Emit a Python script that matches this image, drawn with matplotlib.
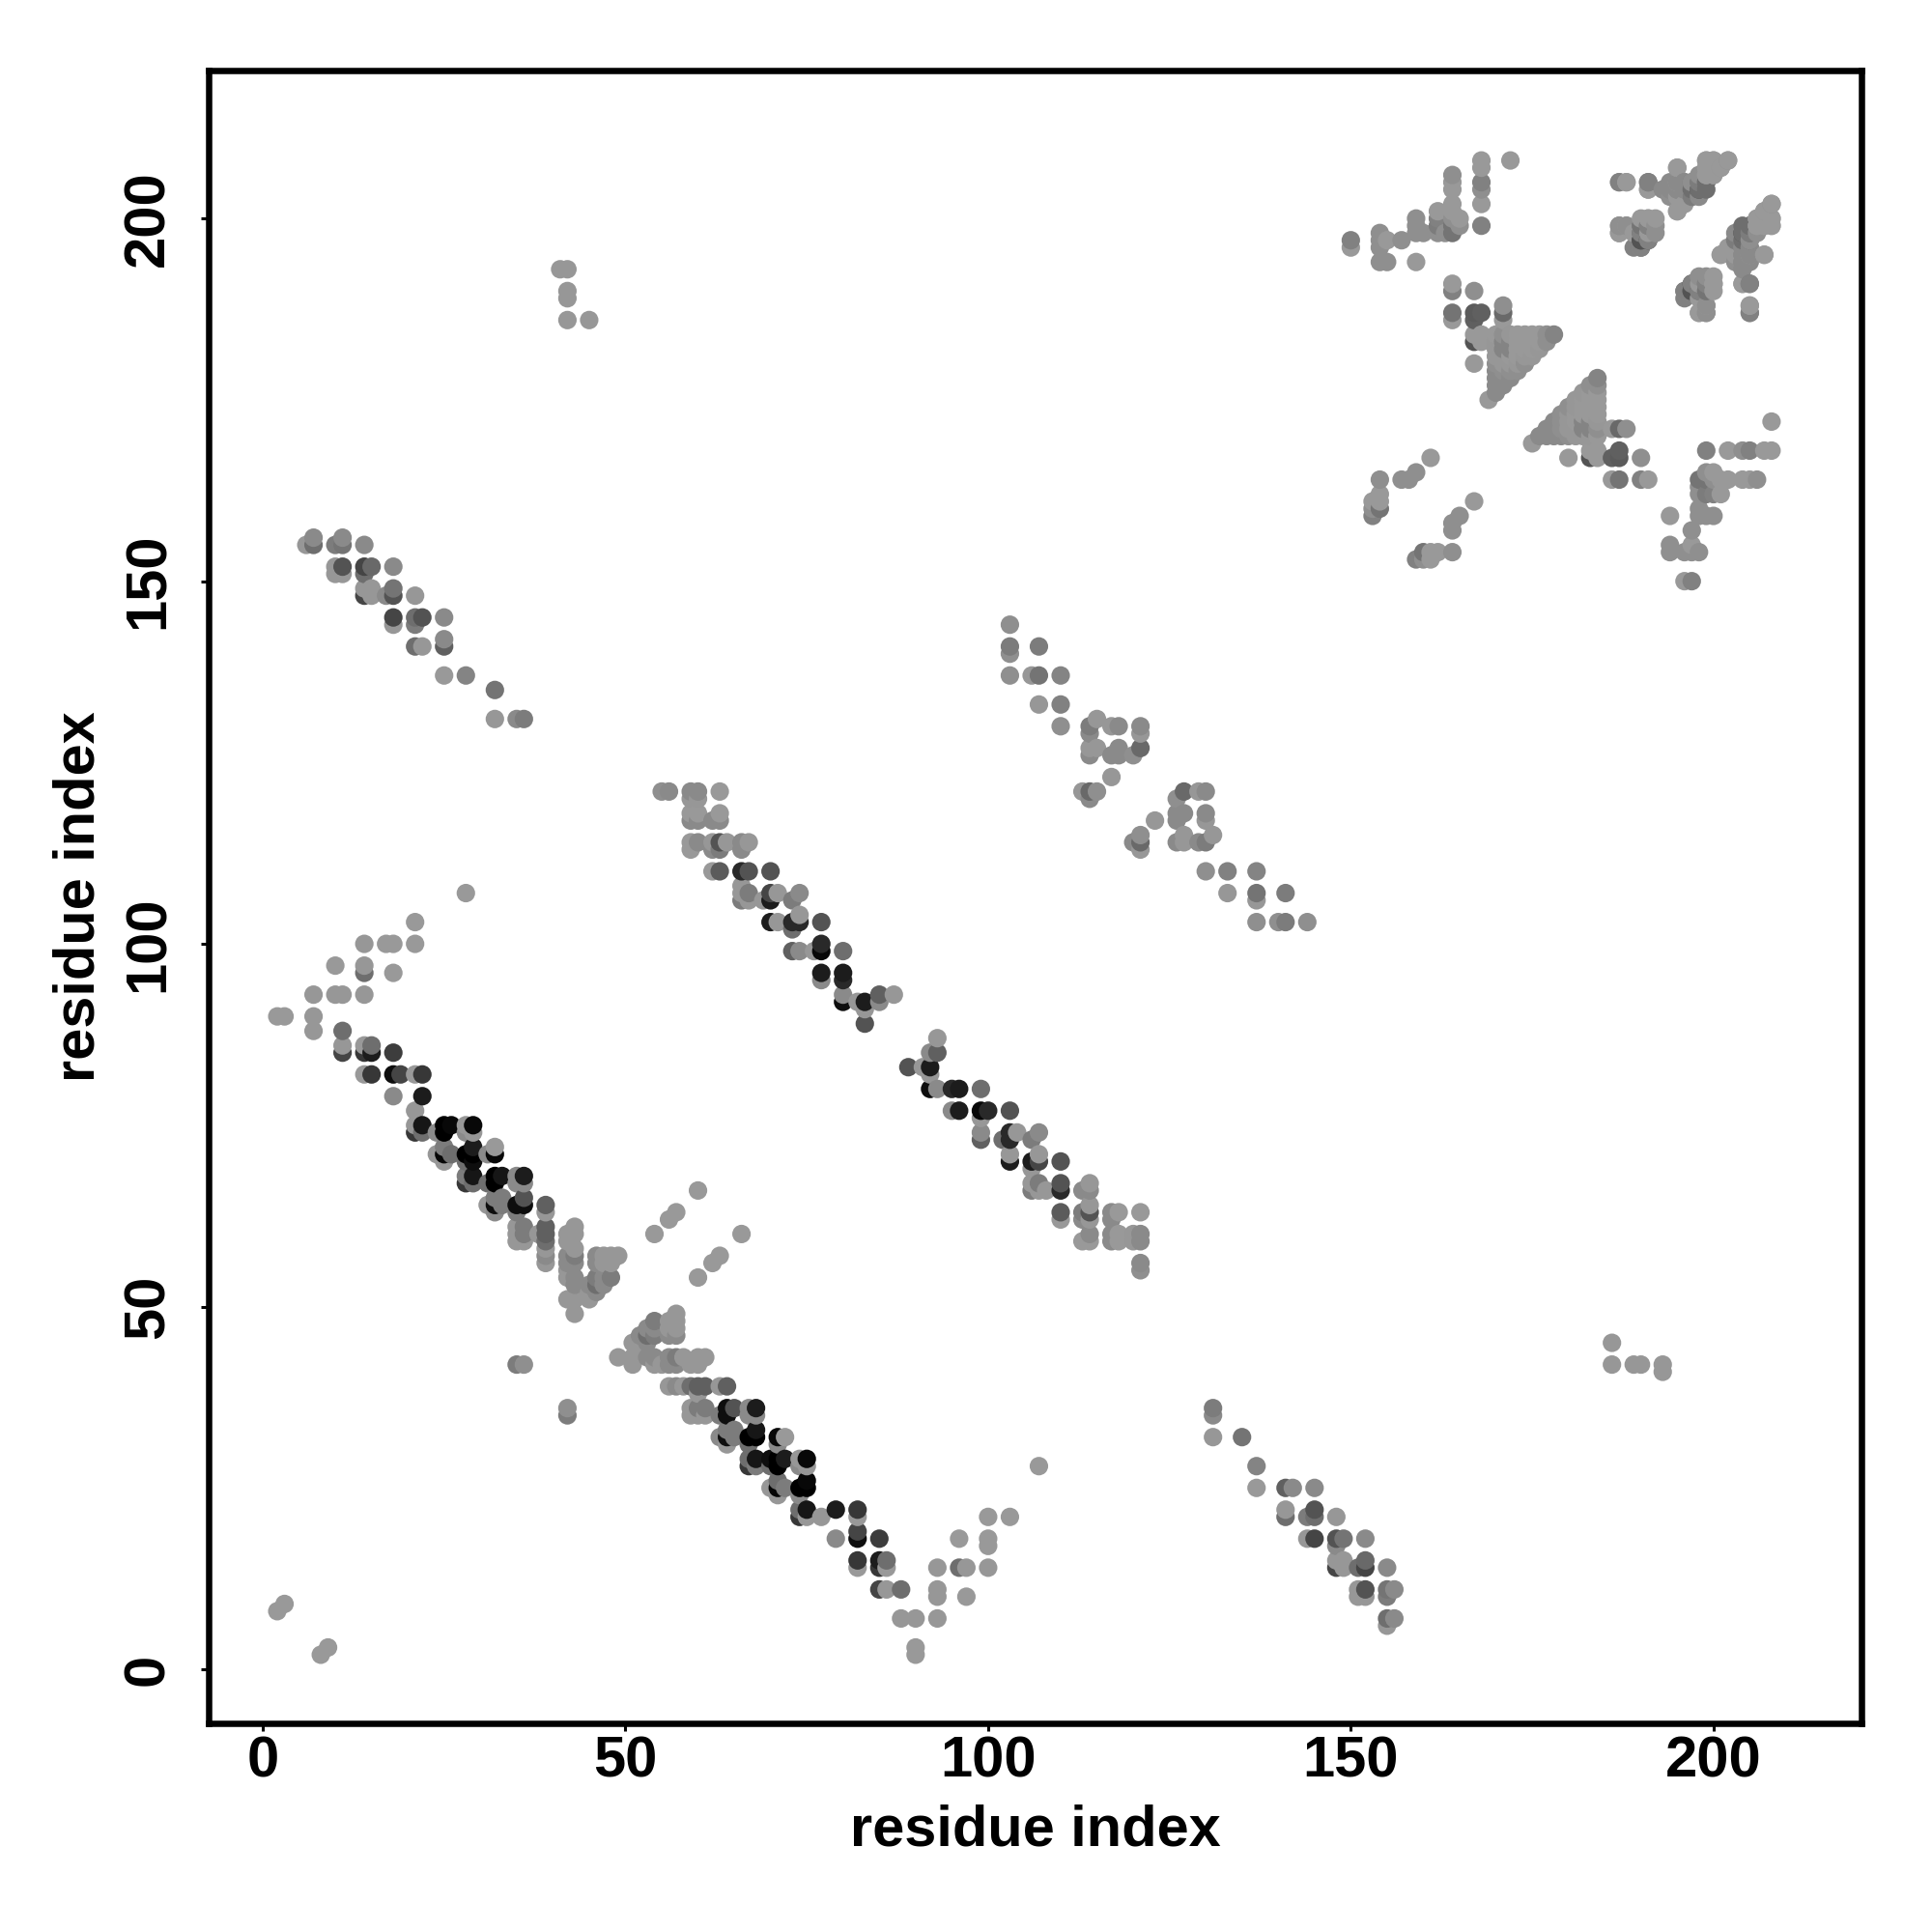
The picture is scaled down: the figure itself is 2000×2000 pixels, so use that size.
import matplotlib
matplotlib.use('Agg')
import matplotlib.pyplot as plt
import numpy as np

# contacts as (residue i, residue j, grey level), only i < j, the map is symmetric
short_range = [(2, 8, .58), (3, 9, .58)]

# first long strand pair, antiparallel
band_main = [
    (2, 90, .58), (3, 90, .58), (7, 88, .55), (7, 90, .55), (7, 93, .55),
    (10, 93, .55), (11, 93, .55), (14, 93, .55), (10, 97, .58), (14, 96, .4), (14, 97, .55),
    (18, 96, .58), (14, 100, .55), (17, 100, .58), (18, 100, .58), (21, 100, .58),
    (21, 103, .58), (28, 107, .58), (11, 88, .4), (11, 86, .55), (14, 86, .6), (15, 86, .4),
    (11, 85, .25), (14, 85, .2), (15, 85, .1), (18, 85, .22),
    (14, 82, .6), (15, 82, .2), (18, 82, .05), (19, 82, .25), (21, 82, .6), (22, 82, .2),
    (18, 79, .5), (22, 79, .1), (21, 77, .55),
    (21, 75, .55), (22, 75, .08), (25, 75, 0), (26, 75, .03), (28, 75, .55), (29, 75, .03),
    (21, 74, .2), (22, 74, .4), (24, 74, .5), (25, 74, 0), (28, 74, .5), (29, 74, .55),
    (25, 72, .45), (29, 72, .1), (32, 72, .58),
    (24, 71, .55), (25, 71, .02), (26, 71, .4), (28, 71, 0), (29, 71, 0), (31, 71, .5), (32, 71, .03),
    (25, 70, .55), (28, 70, .4), (29, 70, .05),
    (28, 68, .45), (29, 68, .08), (32, 68, 0), (33, 68, .08), (35, 68, .5), (36, 68, .1),
    (28, 67, .2), (29, 67, .4), (31, 67, .4), (32, 67, 0), (35, 67, .5), (36, 67, .5),
    (32, 65, .45), (33, 65, .45), (36, 65, .3),
    (31, 64, .55), (32, 64, .05), (33, 64, .45), (35, 64, .05), (36, 64, .05), (39, 64, .35),
    (32, 63, .5), (35, 63, .45), (39, 63, .55),
    (35, 61, .55), (36, 61, .45), (39, 61, .35), (43, 61, .55),
    (35, 60, .55), (36, 60, .45), (38, 60, .55), (39, 60, .35), (42, 60, .55), (43, 60, .55),
    (35, 59, .55), (36, 59, .55), (39, 59, .4), (42, 59, .55),
    (39, 58, .55), (43, 58, .55),
    (39, 57, .5), (42, 57, .5), (43, 57, .45), (46, 57, .5), (47, 57, .55), (48, 57, .55), (49, 57, .55),
    (39, 56, .55), (42, 56, .5), (43, 56, .5), (46, 56, .5),
    (42, 55, .55), (42, 54, .55), (43, 54, .5), (46, 54, .45), (47, 54, .5), (48, 54, .45),
    (43, 53, .5), (45, 53, .5), (46, 53, .4), (47, 53, .5),
    (45, 52, .55), (46, 52, .5), (42, 51, .55), (43, 51, .55), (45, 51, .55), (43, 49, .55),
    (47, 56, .55), (48, 56, .55),
    (54, 60, .58), (56, 62, .58), (57, 63, .58), (60, 66, .58),
    (35, 42, .45), (36, 42, .52),
]

# second strand pair
band_second = [
    (55, 121, .52), (56, 121, .5), (59, 121, .5), (60, 121, .5), (63, 121, .58),
    (59, 120, .55), (60, 120, .55), (59, 118, .58), (60, 118, .58), (63, 118, .58),
    (59, 117, .5), (60, 117, .5), (62, 117, .5), (63, 117, .5),
    (59, 114, .58), (60, 114, .5), (62, 114, .55), (63, 114, .3), (64, 114, .55), (66, 114, .5), (67, 114, .55),
    (59, 113, .58), (62, 113, .5), (63, 113, .45), (66, 113, .5),
    (62, 110, .58), (63, 110, .33), (66, 110, .15), (67, 110, .3), (70, 110, .3),
    (66, 108, .55), (66, 107, .55), (67, 107, .45), (70, 107, .25), (71, 107, .55), (74, 107, .5),
    (66, 106, .45), (67, 106, .55), (69, 106, .55), (70, 106, .1), (73, 106, .45),
    (74, 104, .55), (70, 103, .1), (71, 103, .55), (73, 103, .15), (74, 103, .15), (77, 103, .3),
    (73, 102, .4), (77, 100, .15),
    (73, 99, .35), (74, 99, .5), (76, 99, .55), (77, 99, .03), (80, 99, .4),
    (77, 96, .1), (80, 96, .1), (77, 95, .5), (80, 95, .15),
    (80, 93, .5), (85, 93, .35), (87, 93, .55),
    (80, 92, .05), (82, 92, .55), (83, 92, .1), (85, 92, .5), (83, 91, .55), (83, 89, .3),
]

# third pair, lower strand partner of the first domain
band_third = [
    (6, 155, .55), (7, 155, .4), (7, 156, .5), (10, 155, .45), (11, 155, .42), (11, 156, .5), (14, 155, .5),
    (10, 152, .55), (11, 152, .3), (14, 152, .25), (15, 152, .38), (18, 152, .5),
    (10, 151, .55), (11, 151, .55), (14, 151, .4),
    (14, 149, .55), (15, 149, .55), (18, 149, .42),
    (14, 148, .25), (15, 148, .55), (17, 148, .5), (18, 148, .3), (21, 148, .55),
    (18, 145, .25), (21, 145, .4), (22, 145, .3), (25, 145, .5),
    (18, 144, .55), (21, 144, .45), (25, 142, .5),
    (21, 141, .4), (22, 141, .55), (25, 141, .35),
    (25, 137, .58), (28, 137, .48), (32, 135, .42),
    (32, 131, .55), (35, 131, .5), (36, 131, .45),
]

# fourth pair, around residue 124
band_fourth = [
    (103, 144, .52), (103, 141, .45), (107, 141, .45), (103, 140, .52),
    (103, 137, .52), (106, 137, .55), (107, 137, .42), (110, 137, .48),
    (107, 133, .55), (110, 133, .47), (110, 130, .52), (115, 131, .55),
    (114, 130, .45), (117, 130, .55), (118, 130, .5), (121, 130, .5),
    (114, 129, .5), (121, 129, .55),
    (114, 127, .55), (115, 127, .55), (118, 127, .5), (121, 127, .38),
    (114, 126, .5), (117, 126, .5), (118, 126, .5), (120, 126, .52),
    (117, 123, .55), (113, 121, .55), (114, 121, .38), (115, 121, .52), (114, 120, .5),
]

# odd contacts far off the strands
isolated = [(41, 193, .55), (42, 193, .55), (42, 190, .55), (42, 189, .55), (42, 186, .55), (45, 186, .55)]

# C terminal domain, upper left arm
domain_arm_a = [
    (168, 208, .58), (172, 208, .58), (168, 207, .58), (164, 206, .52), (164, 205, .58), (168, 205, .47),
    (164, 204, .58), (168, 204, .52), (164, 202, .58), (168, 202, .58),
    (162, 201, .58), (164, 201, .58), (159, 200, .52), (162, 200, .47), (164, 200, .52), (165, 200, .58),
    (159, 199, .52), (162, 199, .45), (164, 199, .42), (165, 199, .52), (168, 199, .47),
    (154, 198, .52), (159, 198, .52), (160, 198, .52), (162, 198, .52), (163, 198, .52), (164, 198, .42),
    (150, 197, .47), (154, 197, .52), (155, 197, .58), (157, 197, .52),
    (150, 196, .58), (154, 196, .52), (154, 194, .52), (155, 194, .52), (159, 194, .58),
    (164, 191, .58), (164, 190, .47), (167, 190, .52), (171, 188, .52),
    (164, 187, .42), (167, 187, .33), (168, 187, .35), (171, 187, .38),
    (164, 186, .58), (167, 186, .35), (171, 186, .58),
    (167, 184, .58), (168, 184, .58), (167, 183, .3), (168, 183, .58), (167, 180, .58),
]

# row by row through the solid helix triangle
domain_triangle = [
    (169, 175, .56), (170, 176, .5), (170, 177, .5), (170, 178, .5), (170, 179, .5), (170, 180, .52),
    (170, 181, .55), (170, 182, .55), (170, 183, .55), (170, 184, .56),
    (171, 177, .5), (171, 178, .5), (171, 179, .52), (171, 180, .55), (171, 181, .55),
    (171, 182, .48), (171, 183, .48), (171, 184, .52),
    (172, 178, .5), (172, 179, .52), (172, 180, .55), (172, 181, .56), (172, 182, .48),
    (172, 183, .48), (172, 184, .55),
    (173, 179, .52), (173, 180, .55), (173, 181, .56), (173, 182, .56), (173, 183, .56), (173, 184, .56),
    (174, 180, .52), (174, 181, .55), (174, 182, .57), (174, 183, .57), (174, 184, .57),
    (175, 181, .55), (175, 182, .56), (175, 183, .57), (175, 184, .57),
    (176, 182, .55), (176, 183, .57), (176, 184, .57),
    (177, 183, .52), (177, 184, .52), (178, 184, .48),
]

# C terminal domain, upper right cluster
domain_arm_b = [
    (199, 208, .58), (200, 208, .58), (202, 208, .52), (195, 207, .58), (199, 207, .58), (200, 207, .58),
    (201, 207, .55), (199, 206, .58), (200, 206, .58),
    (187, 205, .5), (188, 205, .58), (191, 205, .45), (195, 205, .55), (196, 205, .5), (197, 205, .45),
    (198, 205, .45), (199, 205, .4),
    (191, 204, .58), (194, 204, .5), (195, 204, .5), (196, 204, .5), (197, 204, .5), (198, 204, .3), (199, 204, .4),
    (195, 203, .58), (197, 203, .55), (198, 203, .5), (195, 201, .58),
    (191, 200, .58), (192, 200, .58), (187, 199, .52), (188, 199, .58), (190, 199, .5), (191, 199, .45), (192, 199, .52),
    (187, 198, .58), (189, 198, .58), (190, 198, .4), (191, 198, .35), (192, 198, .52),
    (190, 197, .3), (191, 197, .28), (189, 196, .47), (190, 196, .5),
    (202, 208, .58), (201, 207, .58), (200, 206, .58), (200, 207, .58), (200, 208, .58),
    (199, 205, .4), (199, 206, .58), (199, 207, .58), (199, 208, .58),
    (198, 204, .4), (198, 205, .45), (198, 206, .52), (197, 203, .45), (197, 204, .4), (197, 205, .52),
    (196, 202, .58), (196, 204, .5), (196, 205, .5), (195, 204, .5), (195, 205, .5),
    (195, 201, .58), (194, 203, .52), (194, 204, .5), (194, 205, .5), (195, 207, .58), (193, 204, .5),
    (191, 197, .47), (191, 198, .58), (191, 199, .47), (191, 200, .58), (191, 204, .58), (191, 205, .47),
    (190, 196, .47), (190, 197, .3), (190, 198, .47), (190, 199, .42), (190, 200, .58),
    (188, 199, .52), (188, 205, .58), (187, 198, .58), (187, 199, .52), (187, 205, .47),
]

# lower left arm of the same domain
domain_arm_c = [
    (161, 167, .58), (159, 165, .52), (154, 164, .52), (157, 164, .52), (158, 164, .52),
    (154, 162, .58), (153, 161, .58), (154, 161, .58), (153, 160, .52), (154, 160, .42), (153, 159, .47),
]

groups = [short_range, band_main, band_second, band_third, band_fourth, isolated,
          domain_arm_a, domain_triangle, domain_arm_b, domain_arm_c]

contacts = np.array([c for group in groups for c in group])
xs = np.concatenate([contacts[:, 0], contacts[:, 1]])
ys = np.concatenate([contacts[:, 1], contacts[:, 0]])
greys = np.concatenate([contacts[:, 2], contacts[:, 2]])

# later residues get drawn on top
order = np.lexsort((ys, xs))
colours = [str(min(g * 1.08, .6)) for g in greys[order]]

plt.rcParams['font.family'] = ['Liberation Sans', 'DejaVu Sans']
plt.rcParams['font.weight'] = 'bold'

fig = plt.figure(figsize=(20, 20), dpi=100)
ax = fig.add_axes([216 / 2000, 1 - 1784 / 2000, (1927 - 216) / 2000, (1784 - 73) / 2000])

ax.scatter(xs[order], ys[order], s=190, c=colours, linewidths=0, zorder=2)

ax.set_xlim(-7.46, 220.4)
ax.set_ylim(-7.46, 220.4)

ticks = [0, 50, 100, 150, 200]
ax.set_xticks(ticks)
ax.set_yticks(ticks)
ax.tick_params(axis='both', length=6, width=2.2, labelsize=43)
ax.tick_params(axis='x', pad=3)
ax.tick_params(axis='y', pad=19)
for lab in ax.get_yticklabels():
    lab.set_rotation(90)
    lab.set_va('center')

for spine in ax.spines.values():
    spine.set_linewidth(4.7)

ax.set_xlabel('residue index', fontsize=42.8, fontweight='bold')
ax.set_ylabel('residue index', fontsize=42.8, fontweight='bold')
ax.xaxis.set_label_coords(0.5, -0.049)
ax.yaxis.set_label_coords(-0.0625, 0.5)

fig.savefig('out.png', dpi=100)
